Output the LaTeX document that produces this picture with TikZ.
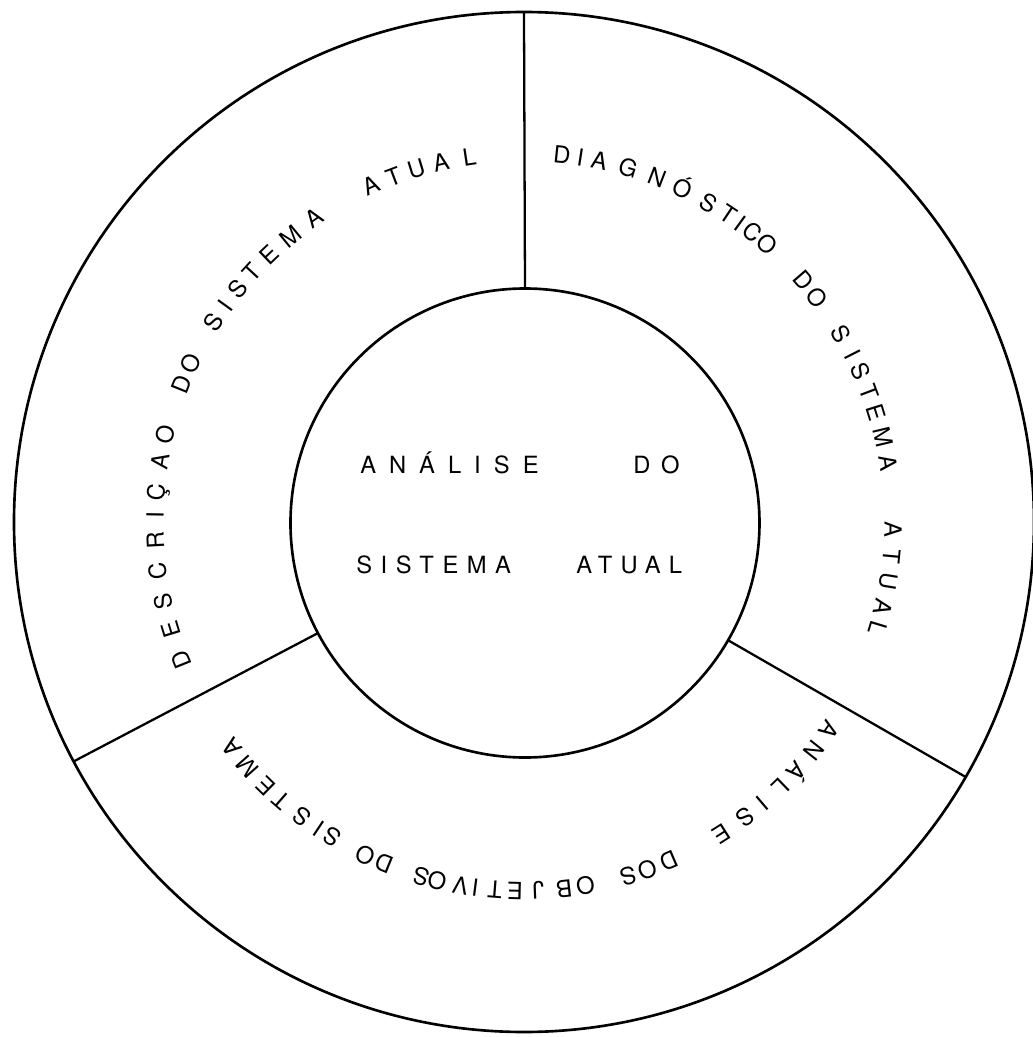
\documentclass[tikz,border=0pt]{standalone}
\usepackage{fontspec}
\setmainfont{TeX Gyre Heros}

\begin{document}
\begin{tikzpicture}[
  anel/.style={circle,draw,line width=1.5pt,inner sep=0pt,outer sep=0pt},
  divisa/.style={line width=1.3pt},
  letra/.style={anchor=base,inner sep=0pt,font=\fontsize{13.5}{16}\selectfont},
  titulo/.style={anchor=base west,inner sep=0pt,font=\fontsize{13.5}{16}\selectfont\addfontfeature{LetterSpace=#1}}
]
\useasboundingbox (-10.48,-10.30) rectangle (10.18,10.44);
\node[anel,minimum size=20.4cm] (borda) at (0,0) {};
\node[anel,minimum size=9.38cm] (nucleo) at (0.02,-0.02) {};
\draw[divisa] (nucleo.90) -- (borda.90);
\draw[divisa] (nucleo.208) -- (borda.208);
\draw[divisa] (nucleo.330) -- (borda.330);

% centro
\node[titulo=55] (analise) at (-3.28,0.98) {ANÁLISE};
\node[titulo=45] (do) at (2.18,0.98) {DO};
\node[titulo=36] (sistema) at (-3.36,-1.02) {SISTEMA};
\node[titulo=34] (atual) at (1.04,-1.02) {ATUAL};

% textos em volta
\foreach \a/\c [count=\i] in {201.9/D,197.0/E,192.4/S,187.7/C,182.9/R,178.9/I,175.4/Ç,170.5/A,166.3/O,
    158.1/D,154.6/O,147.3/S,144.1/I,140.8/S,137.4/T,133.7/E,129.3/M,124.6/A,
    114.4/A,110.7/T,106.95/U,103.0/A,98.5/L}
  \node[letra,rotate=\a-90] (desc\i) at (\a:7.21) {\c};
\foreach \a/\c [count=\i] in {84.1/D,81.2/I,78.2/A,73.6/G,68.9/N,64.5/Ó,59.9/S,56.4/T,54.1/I,51.8/C,48.8/O,
    40.85/D,37.4/O,30.7/S,26.9/I,24.1/S,20.6/T,17.3/E,13.3/M,9.2/A,
    -1.2/A,-5.4/T,-9.3/U,-13.3/A,-16.8/L}
  \node[letra,rotate=\a-90] (diag\i) at (\a:7.21) {\c};
\foreach \a/\c [count=\i] in {-34.2/A,-38.3/N,-42.5/Á,-45.9/L,-49.7/I,-53.2/S,-57.65/E,
    -66.8/D,-70.5/O,-73.6/S,-80.4/O,-83.75/B,-87.8/J,-91.4/E,-94.5/T,-97.55/I,-99.9/V,-103.6/O,-106.2/S,
    -112.3/D,-115.4/O,-121.35/S,-123.7/I,-127.0/S,-131.0/T,-134.4/E,-138.4/M,-142.4/A}
  \node[letra,rotate=\a-90] (obj\i) at (\a:7.21) {\c};
\end{tikzpicture}
\end{document}
